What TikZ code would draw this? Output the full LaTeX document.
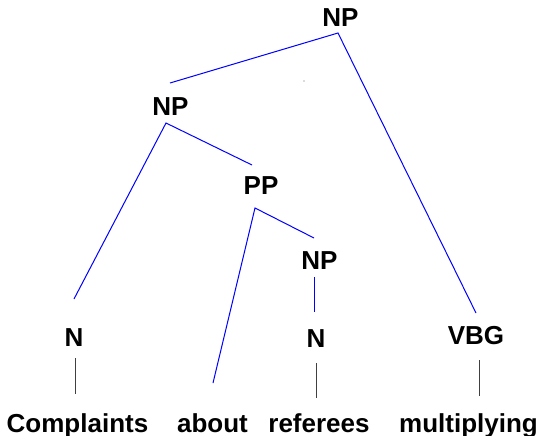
\documentclass[tikz,border=0pt]{standalone}
\usepackage{fontspec}
\setmainfont{Liberation Sans}
\begin{document}
\begin{tikzpicture}[x=1pt,y=-1pt,
  lbl/.style={inner sep=0pt,anchor=base,font=\bfseries\fontsize{26}{30}\selectfont},
  branch/.style={blue,line width=1pt},
  lexlink/.style={black!75,line width=0.9pt}]
\useasboundingbox (0,0) rectangle (539,436);

% category labels
\node[lbl] (np0) at (340.5,27) {NP};
\node[lbl] (np1) at (170.5,116) {NP};
\node[lbl] (pp)  at (261,194) {PP};
\node[lbl] (np2) at (319.5,269) {NP};
\node[lbl] (n1)  at (74,346) {N};
\node[lbl] (n2)  at (316,347) {N};
\node[lbl] (vbg) at (476,344) {VBG};

% words
\node[lbl] (w1) at (77.5,432) {Complaints};
\node[lbl] (w2) at (212.5,432) {about};
\node[lbl] (w3) at (319,432) {referees};
\node[lbl] (w4) at (468.5,432) {multiplying};

% branch end points
\coordinate (a0) at (338,33);
\coordinate (a0l) at (170,83);
\coordinate (a0r) at (476,313);
\coordinate (a1) at (166,123);
\coordinate (a1l) at (74,299);
\coordinate (a1r) at (252,165);
\coordinate (a2) at (255,208);
\coordinate (a2l) at (213,383);
\coordinate (a2r) at (314,238);
\coordinate (a3) at (314.5,277);
\coordinate (a3b) at (314.5,312);

\draw[branch] (a0l) -- (a0) -- (a0r);
\draw[branch] (a1l) -- (a1) -- (a1r);
\draw[branch] (a2l) -- (a2) -- (a2r);
\draw[branch] (a3) -- (a3b);

% lexical links
\coordinate (l1t) at (75,358);
\coordinate (l1b) at (75,394);
\coordinate (l2t) at (316,363);
\coordinate (l2b) at (316,398);
\coordinate (l3t) at (479,360);
\coordinate (l3b) at (479,396);
\draw[lexlink] (l1t) -- (l1b);
\draw[lexlink] (l2t) -- (l2b);
\draw[lexlink] (l3t) -- (l3b);

% small speck
\fill[black!60] (304,81) circle (0.6pt);
\end{tikzpicture}
\end{document}
